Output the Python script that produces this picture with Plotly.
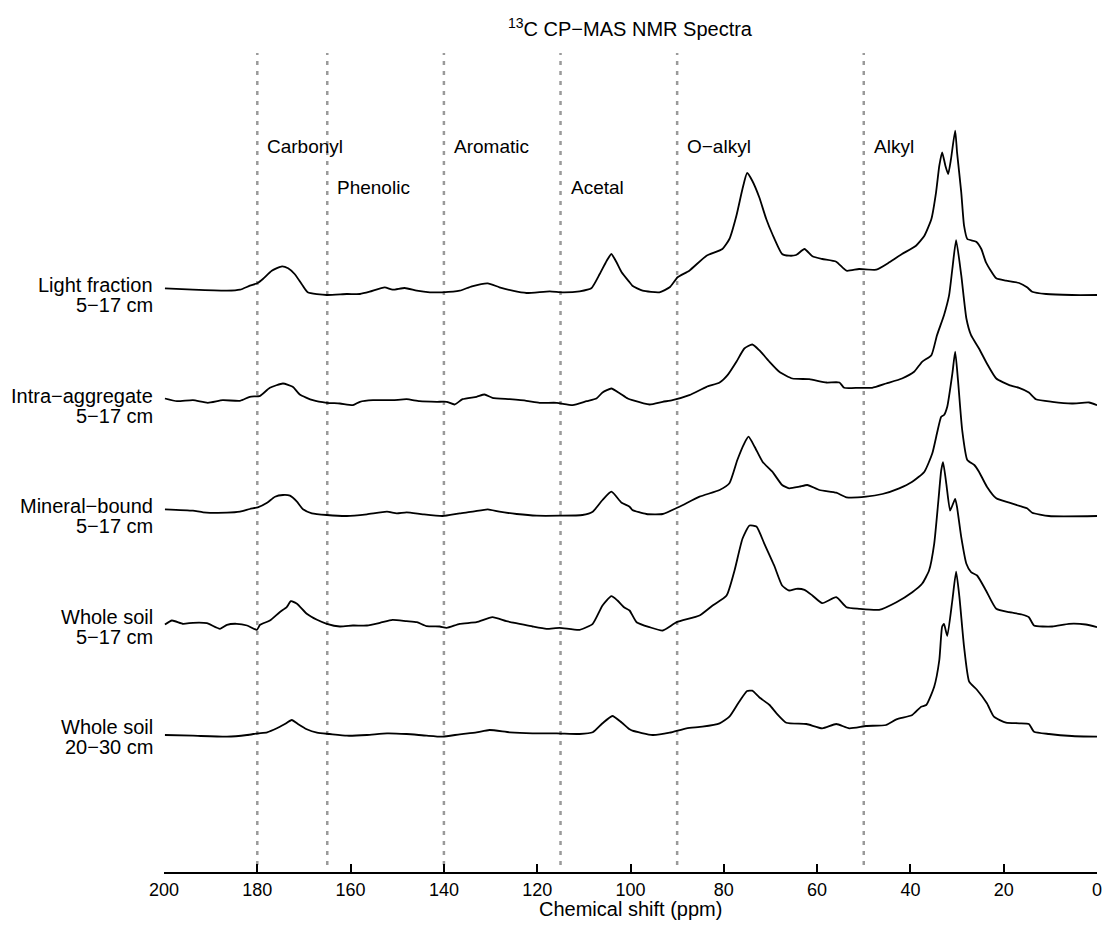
import plotly.graph_objects as go

# ---------------- data (ppm, relative intensity) ----------------
lf_ppm = [199.8, 193.8, 186.5, 183.7, 181.6, 179.9, 178.8, 176.9, 174.7, 173.4, 172.0, 170.5, 169.2,
          165.1, 160.8, 158.0, 155.9, 152.7, 151.0, 148.4, 145.8, 143.0, 140.3, 136.6, 134.0, 130.6,
          128.1, 125.3, 122.3, 117.3, 114.6, 110.9, 108.4, 106.6, 105.1, 104.1, 103.0, 101.9, 100.2,
          99.6, 97.4, 93.8, 91.6, 89.9, 87.4, 83.7, 80.3, 78.8, 77.3, 76.0, 75.0, 73.9, 72.4, 70.9,
          69.6, 67.5, 66.0, 64.5, 62.7, 61.0, 58.9, 55.9, 53.7, 51.0, 47.3, 44.5, 41.8, 38.8, 37.0,
          35.5, 34.5, 33.8, 33.2, 32.5, 31.9, 31.3, 30.4, 30.0, 29.1, 28.5, 27.8, 25.9, 24.8, 23.8,
          21.6, 19.5, 16.7, 15.0, 13.9, 10.9, 5.4, 0.0]
lf_int = [6.7, 5.3, 4.3, 5.3, 9.3, 12, 16, 24.3, 28.7, 26.7, 21, 11, 2.7,
          0, 1, 1, 3.3, 7.7, 5.3, 7, 4.3, 2.7, 2.7, 4.3, 8.7, 11.7,
          7.7, 4.3, 2, 3.7, 2.7, 3.7, 6.7, 21, 34.3, 41, 32.7, 22.7, 12.7,
          9.3, 4.3, 2.7, 7.7, 17.7, 24.3, 39.3, 46, 56, 79.3, 106, 122, 114.3, 97.7, 76,
          61, 41, 39.3, 40, 46, 38.7, 36, 33.3, 24.3, 26, 25.3, 32.7, 41, 49.3, 59.3,
          76, 102.7, 129.3, 142.7, 129.3, 121, 136, 164.3, 142.7, 102.7, 69.3, 56, 53.3, 46, 32.7,
          16.7, 14.3, 12, 7.7, 3.3, 1, 0, 0]

ia_ppm = [199.8, 197.2, 193.8, 190.6, 187.4, 183.7, 181.6, 179.4, 177.3, 174.5, 172.4, 170.9, 168.1,
          165.1, 162.3, 159.5, 158.0, 155.2, 151.0, 148.0, 145.2, 141.5, 139.4, 137.7, 136.0, 133.0,
          131.3, 129.6, 125.9, 122.3, 119.5, 115.8, 112.4, 109.4, 107.3, 106.0, 104.1, 102.4, 100.6,
          99.6, 95.9, 93.1, 91.0, 87.4, 83.7, 80.9, 79.2, 77.3, 75.6, 73.9, 72.4, 70.2, 68.1, 65.3,
          61.7, 58.0, 55.2, 54.2, 51.0, 48.2, 45.2, 41.8, 39.2, 37.5, 35.5, 34.3, 32.8, 31.7, 31.0,
          30.2, 29.1, 28.0, 27.0, 25.3, 23.6, 21.6, 18.8, 16.7, 14.6, 13.1, 9.6, 5.4, 1.7, 0.0]
ia_int = [7, 4.3, 5.3, 2.7, 5.3, 4.7, 8.7, 9.7, 17.7, 22, 18.7, 11, 5.3,
          2.7, 2, 0.3, 3.7, 5.3, 5.3, 6.3, 4.3, 3.7, 3.7, 1, 6.3, 8.7,
          11, 7.7, 6.3, 4.7, 2.7, 2.7, 0.3, 4.3, 7, 13, 17, 12.5, 7,
          5.3, 1, 3.7, 5.3, 10.3, 18.7, 23, 30.3, 43.7, 57, 61, 55.3, 43.7, 33.7, 27,
          26.3, 23, 23, 17.7, 17.7, 17.7, 22, 27, 33.7, 43.7, 50.3, 70.3, 90.3, 110.3, 137,
          165.3, 130.3, 87, 70.3, 57, 42, 27, 20.3, 17.7, 13, 6.3, 3.7, 2, 3, 0.3]

mb_ppm = [199.8, 193.8, 191.6, 186.5, 183.7, 181.6, 179.9, 177.9, 176.2, 174.5, 173.0, 171.5, 170.2,
          168.3, 165.1, 160.8, 156.5, 152.2, 150.1, 148.0, 144.5, 140.3, 136.6, 133.8, 130.6, 128.1,
          124.4, 120.1, 115.2, 110.3, 108.1, 106.0, 104.1, 101.9, 100.2, 99.6, 96.6, 93.1, 89.5, 85.2,
          80.9, 78.8, 77.1, 75.6, 74.7, 73.4, 71.7, 69.6, 67.5, 66.0, 63.8, 62.1, 59.5, 55.9, 53.7,
          49.5, 46.0, 42.4, 39.6, 37.0, 35.3, 34.3, 33.4, 32.8, 32.1, 31.0, 30.4, 29.8, 28.9, 27.8,
          26.3, 25.3, 23.6, 21.6, 18.8, 16.1, 15.0, 13.9, 10.3, 0.0]
mb_int = [6.7, 5.3, 3.7, 3.3, 4.3, 7, 8.7, 13.3, 19.3, 21, 20.3, 14.3, 6.7,
          2.7, 1, 0, 1.7, 4.3, 2.7, 3.7, 1.7, 0, 2.7, 4.3, 6.7, 4.3,
          2, 0.3, 0.3, 1, 4.3, 16, 24.3, 13.3, 9.3, 6, 2, 2, 9.3, 19.3,
          26, 32.7, 56, 72.7, 79.3, 69.3, 54.3, 44.3, 31, 27.7, 29.3, 31, 26, 23.3, 18.7,
          19.3, 22, 27.7, 34.3, 44.3, 62.7, 82.7, 99.3, 101, 109.3, 142.7, 164.3, 136, 86, 56,
          51, 44.3, 29.3, 17.7, 13.3, 9.3, 7.7, 3.3, 0, 0]

ws5_ppm = [199.8, 198.3, 195.9, 193.8, 190.8, 188.0, 186.5, 184.4, 182.2, 180.1, 179.4, 177.3, 175.2,
           173.7, 172.8, 171.5, 169.4, 167.2, 165.1, 162.3, 159.5, 156.5, 153.7, 151.0, 148.0, 145.8,
           143.7, 140.9, 139.4, 136.6, 133.0, 129.6, 126.6, 123.8, 121.0, 118.0, 115.2, 110.9, 108.1,
           106.0, 104.1, 102.8, 101.3, 100.2, 98.7, 95.9, 93.1, 90.1, 85.2, 82.4, 79.4, 77.7, 76.0,
           74.5, 73.0, 71.3, 69.2, 67.5, 66.0, 64.5, 62.7, 61.0, 58.9, 55.9, 53.7, 51.0, 46.7, 43.0,
           39.6, 37.5, 36.0, 34.9, 34.0, 33.4, 33.0, 32.3, 31.5, 31.0, 30.4, 30.0, 29.1, 28.0, 27.0,
           25.7, 23.8, 21.6, 18.8, 16.1, 14.6, 13.5, 9.6, 6.0, 2.4, 0.0]
ws5_int = [2, 6, 2.7, 3.7, 3.3, -2.3, 1.7, 2.7, 1, -3.3, 1.7, 6, 14.3,
           19.3, 25.3, 22.7, 12.7, 6.7, 2.7, 0, 1, 1, 3.7, 6.7, 5.3, 4.3,
           0.3, 0, -1.3, 2.7, 4.3, 9.3, 5.3, 2.7, 0, -2.3, -1.3, -3.3, 2.7,
           21, 30.3, 26, 19, 16, 4.3, -0.7, -4, 4.3, 11, 21, 31, 56, 87.7,
           101, 100, 82.7, 61, 41, 36, 37.7, 36.7, 31, 23.3, 29.3, 19.3, 17.7, 16.7, 24.3,
           34.3, 42.7, 56, 82.7, 126, 156, 164.3, 142.7, 116, 121, 127.7, 119.3, 89.3, 62.7, 54.3,
           51, 36, 17.7, 14.3, 12, 9.3, 1, 0, 2.7, 2, -0.7]

ws20_ppm = [199.8, 193.8, 186.5, 182.2, 179.9, 177.9, 175.8, 174.1, 172.6, 171.3, 169.4, 167.2, 164.5,
            160.8, 156.5, 152.2, 148.0, 143.7, 140.3, 136.6, 133.0, 130.2, 125.9, 121.0, 115.8, 110.9,
            108.1, 106.0, 103.9, 101.9, 100.2, 99.6, 95.3, 91.6, 88.0, 84.6, 80.9, 78.8, 76.7, 75.0,
            73.9, 72.4, 70.2, 68.7, 66.6, 62.3, 58.9, 55.9, 53.1, 49.5, 45.2, 43.0, 39.6, 37.7, 36.6,
            34.9, 33.8, 33.2, 32.8, 32.1, 31.0, 30.2, 29.5, 28.5, 27.4, 25.7, 23.6, 22.1, 19.5, 16.7,
            14.6, 13.5, 10.3, 5.4, 0.0]
ws20_int = [2, 1.3, 0.3, 2, 3.7, 4.7, 8.7, 13, 17, 13, 7.7, 4.3, 3,
            1.3, 2, 3.7, 3, 1.3, 0.3, 2.7, 4.7, 7, 4.7, 3.7, 3.7, 3,
            4.7, 13.7, 21, 14.5, 7.7, 6.3, 2, 4.3, 8.7, 10.3, 13.7, 20.3, 35.3, 46,
            46.3, 39.7, 32, 23.7, 14.3, 13, 8.7, 13, 8.7, 11, 12, 17.7, 22, 30.3, 32,
            50.3, 77, 110.3, 113, 101, 137, 165.3, 140.3, 90.3, 55.3, 47, 33.7, 20.3, 14.3, 13.7,
            13, 5.3, 3, 1, 0.3]

sample_names = ["Light fraction", "Intra\u2212aggregate", "Mineral\u2212bound", "Whole soil", "Whole soil"]
sample_depths = ["5\u221217 cm", "5\u221217 cm", "5\u221217 cm", "5\u221217 cm", "20\u221230 cm"]
region_bounds = [180, 165, 140, 115, 90, 50]
region_names = ["Carbonyl", "Phenolic", "Aromatic", "Acetal", "O\u2212alkyl", "Alkyl"]
x_ticks = [0, 20, 40, 60, 80, 100, 120, 140, 160, 180, 200]

spectra = [(lf_ppm, lf_int), (ia_ppm, ia_int), (mb_ppm, mb_int), (ws5_ppm, ws5_int), (ws20_ppm, ws20_int)]

# ---------------- layout ----------------
FONT = "Liberation Sans, Arial, Helvetica, sans-serif"
W, H = 1110, 927
ML, MR, MT, MB = 164, 8, 40, 55
PH = H - MT - MB
spacing = 110.5
base_offset = 135
LABEL_SIZE = 20

fig = go.Figure()
n = len(spectra)
offsets = [base_offset + spacing * (n - 1 - k) for k in range(n)]

for k, (px, iy) in enumerate(spectra):
    fig.add_trace(go.Scatter(
        x=px, y=[v + offsets[k] for v in iy], mode="lines",
        line=dict(color="black", width=1.8, shape="spline", smoothing=0.5),
        hoverinfo="skip", showlegend=False))

shapes = []
for b in region_bounds:
    shapes.append(dict(type="line", xref="x", yref="y", x0=b, x1=b, y0=7, y1=819,
                       line=dict(color="#9a9a9a", width=2.5, dash="4px,6px"), layer="below"))

annotations = []
for b, name in zip(region_bounds, region_names):
    row_y = 726 if name not in ("Phenolic", "Acetal") else 685
    annotations.append(dict(x=b, y=row_y, xref="x", yref="y", text=name, showarrow=False,
                            xanchor="left", yanchor="middle", xshift=8,
                            font=dict(family=FONT, size=19, color="black")))
for k in range(n):
    annotations.append(dict(x=0, y=offsets[k] + 10, xref="paper", yref="y", text=sample_names[k],
                            showarrow=False, xanchor="right", yanchor="middle", xshift=-9,
                            font=dict(family=FONT, size=LABEL_SIZE, color="black")))
    annotations.append(dict(x=0, y=offsets[k] - 10, xref="paper", yref="y", text=sample_depths[k],
                            showarrow=False, xanchor="right", yanchor="middle", xshift=-9,
                            font=dict(family=FONT, size=LABEL_SIZE, color="black")))
annotations.append(dict(x=0.5, y=(H - MB - 27) / PH, xref="paper", yref="paper",
                        text="<sup>13</sup>C CP\u2212MAS NMR Spectra", showarrow=False,
                        xanchor="center", yanchor="middle", font=dict(family=FONT, size=20, color="black")))
annotations.append(dict(x=0.5, y=-37 / PH, xref="paper", yref="paper",
                        text="Chemical shift (ppm)", showarrow=False,
                        xanchor="center", yanchor="middle", font=dict(family=FONT, size=20, color="black")))

fig.update_layout(
    width=W, height=H,
    margin=dict(l=ML, r=MR, t=MT, b=MB),
    paper_bgcolor="white", plot_bgcolor="white",
    shapes=shapes, annotations=annotations,
    xaxis=dict(range=[200, 0], tickvals=x_ticks, ticktext=[str(t) for t in x_ticks],
               showgrid=False, zeroline=False, showline=True, linecolor="black", linewidth=2,
               ticks="inside", ticklen=8, tickwidth=2, tickcolor="black",
               tickfont=dict(family=FONT, size=18, color="black")),
    yaxis=dict(range=[0, PH], visible=False, showgrid=False, zeroline=False),
)

fig.write_html("out.html")
